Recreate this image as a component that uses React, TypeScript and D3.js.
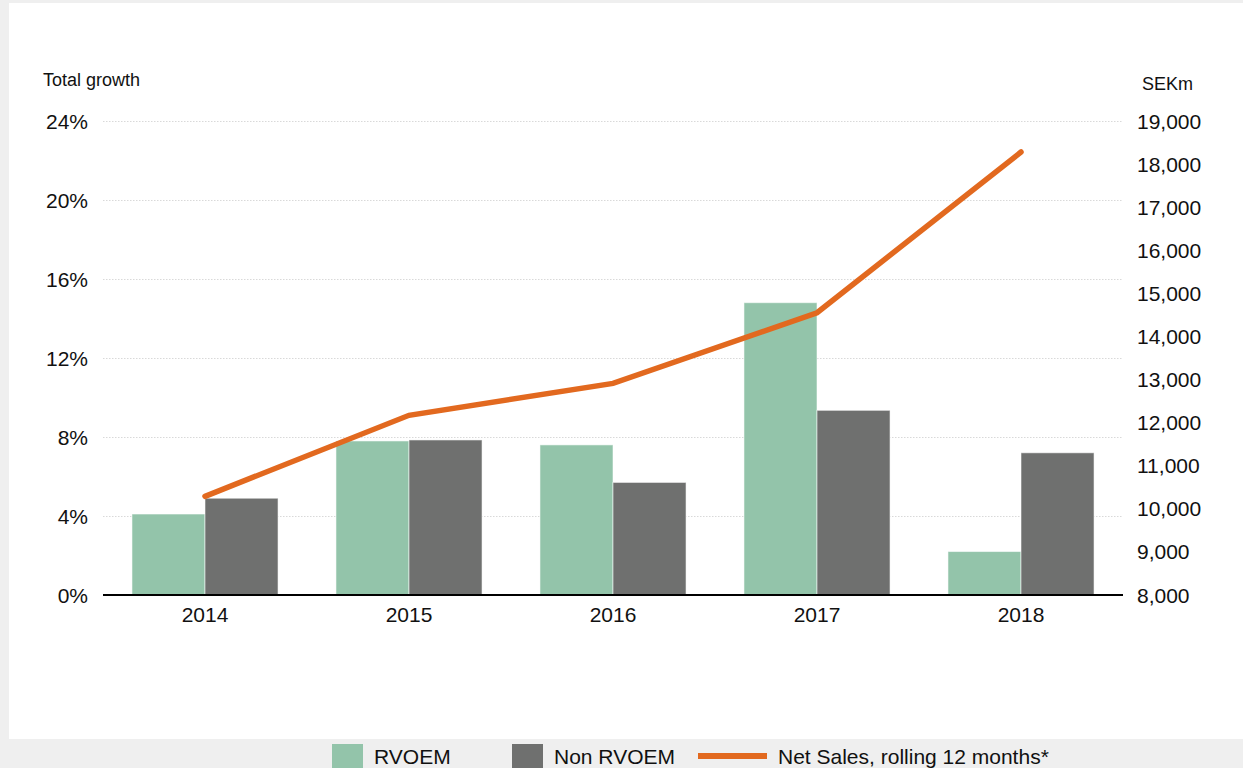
import { useEffect, useRef } from 'react';
import * as d3 from 'd3';

const years = ['2014', '2015', '2016', '2017', '2018']
const rvoem = [4.1, 7.8, 7.6, 14.8, 2.2]
const nonRvoem = [4.9, 7.85, 5.7, 9.35, 7.2]
const netSales = [10290, 12170, 12910, 14550, 18280]
const leftTicks = [0, 4, 8, 12, 16, 20, 24]
const rightTicks = [8000, 9000, 10000, 11000, 12000, 13000, 14000, 15000, 16000, 17000, 18000, 19000]

const seriesNames = ['RVOEM', 'Non RVOEM']
const colors = ['#93c4aa', '#6f706f']
const lineColor = '#e2691f'

function App() {
  const ref = useRef<SVGSVGElement>(null)

  useEffect(() => {
    drawChart()
    // eslint-disable-next-line
  }, [])

  function drawChart() {
    const config = {
      width: 1243,
      height: 768,
      left: 103,
      right: 1123,
      top: 121,
      bottom: 595
    }
    const font = 'Liberation Sans, Arial, sans-serif'

    const svg = d3.select(ref.current)
    svg.selectAll('*').remove()

    svg.append('rect')
      .attr('width', config.width)
      .attr('height', config.height)
      .attr('fill', '#efefef')
    svg.append('rect')
      .attr('x', 9).attr('y', 3)
      .attr('width', config.width - 9)
      .attr('height', 736)
      .attr('fill', '#ffffff')

    const x = d3.scaleBand()
      .domain(years)
      .range([config.left, config.right])
      .paddingInner(0.284)
      .paddingOuter(0.142)

    const xSub = d3.scaleBand()
      .domain(seriesNames)
      .range([0, x.bandwidth()])

    const yLeft = d3.scaleLinear().domain([0, 24]).range([config.bottom, config.top])
    const yRight = d3.scaleLinear().domain([8000, 19000]).range([config.bottom, config.top])

    // grid
    svg.append('g')
      .selectAll('line')
      .data(leftTicks.filter(d => d > 0))
      .enter()
      .append('line')
      .attr('x1', config.left)
      .attr('x2', config.right)
      .attr('y1', d => Math.round(yLeft(d)) + 0.5)
      .attr('y2', d => Math.round(yLeft(d)) + 0.5)
      .attr('stroke', '#d9d9d9')
      .attr('stroke-dasharray', '1.5,1.5')

    // bars
    const data = years.map((y, i) => ({ year: y, values: [rvoem[i], nonRvoem[i]] }))
    const groups = svg.append('g')
      .selectAll('g')
      .data(data)
      .enter()
      .append('g')
      .attr('transform', d => `translate(${x(d.year)},0)`)

    groups.selectAll('rect')
      .data(d => d.values.map((v, i) => ({ name: seriesNames[i], value: v, i })))
      .enter()
      .append('rect')
      .attr('x', d => xSub(d.name) as number)
      .attr('width', xSub.bandwidth())
      .attr('y', d => yLeft(d.value))
      .attr('height', d => config.bottom - yLeft(d.value))
      .attr('fill', d => colors[d.i])
      .attr('stroke', 'rgba(255,255,255,0.55)')
      .attr('stroke-width', 1)

    // baseline
    svg.append('line')
      .attr('x1', config.left)
      .attr('x2', config.right)
      .attr('y1', config.bottom)
      .attr('y2', config.bottom)
      .attr('stroke', '#000')
      .attr('stroke-width', 2)

    // line
    const line = d3.line<number>()
      .x((_, i) => (x(years[i]) as number) + x.bandwidth() / 2)
      .y(d => yRight(d))

    svg.append('path')
      .datum(netSales)
      .attr('d', line)
      .attr('fill', 'none')
      .attr('stroke', lineColor)
      .attr('stroke-width', 5.5)
      .attr('stroke-linecap', 'round')
      .attr('stroke-linejoin', 'miter')

    // left axis labels
    svg.append('g')
      .selectAll('text')
      .data(leftTicks)
      .enter()
      .append('text')
      .attr('x', 88)
      .attr('y', d => yLeft(d) + 7.5)
      .attr('text-anchor', 'end')
      .style('font-family', font)
      .style('font-size', '21px')
      .attr('fill', '#111')
      .text(d => `${d}%`)

    // right axis labels
    svg.append('g')
      .selectAll('text')
      .data(rightTicks)
      .enter()
      .append('text')
      .attr('x', 1137)
      .attr('y', d => yRight(d) + 7.5)
      .style('font-family', font)
      .style('font-size', '21px')
      .attr('fill', '#111')
      .text(d => d3.format(',')(d))

    // x labels
    svg.append('g')
      .selectAll('text')
      .data(years)
      .enter()
      .append('text')
      .attr('x', d => (x(d) as number) + x.bandwidth() / 2)
      .attr('y', 622)
      .attr('text-anchor', 'middle')
      .style('font-family', font)
      .style('font-size', '21px')
      .attr('fill', '#111')
      .text(d => d)

    // axis titles
    svg.append('text')
      .attr('x', 43).attr('y', 86)
      .style('font-family', font)
      .style('font-size', '18px')
      .attr('fill', '#111')
      .text('Total growth')
    svg.append('text')
      .attr('x', 1142).attr('y', 90)
      .style('font-family', font)
      .style('font-size', '18px')
      .attr('fill', '#111')
      .text('SEKm')

    // legend
    const legend = svg.append('g')
    const swatchX = [332, 512]
    seriesNames.forEach((name, i) => {
      legend.append('rect')
        .attr('x', swatchX[i]).attr('y', 744)
        .attr('width', 31).attr('height', 24)
        .attr('fill', colors[i])
      legend.append('text')
        .attr('x', swatchX[i] + 42).attr('y', 764)
        .style('font-family', font)
        .style('font-size', '21px')
        .attr('fill', '#111')
        .text(name)
    })
    legend.append('line')
      .attr('x1', 698).attr('x2', 767)
      .attr('y1', 756).attr('y2', 756)
      .attr('stroke', lineColor)
      .attr('stroke-width', 6)
    legend.append('text')
      .attr('x', 778).attr('y', 764)
      .style('font-family', font)
      .style('font-size', '21px')
      .attr('fill', '#111')
      .text('Net Sales, rolling 12 months*')
  }

  return (
    <div style={{ position: 'absolute', left: 0, top: 0 }}>
      <svg ref={ref} width={1243} height={768} style={{ display: 'block' }}></svg>
    </div>
  )
}

export default App
